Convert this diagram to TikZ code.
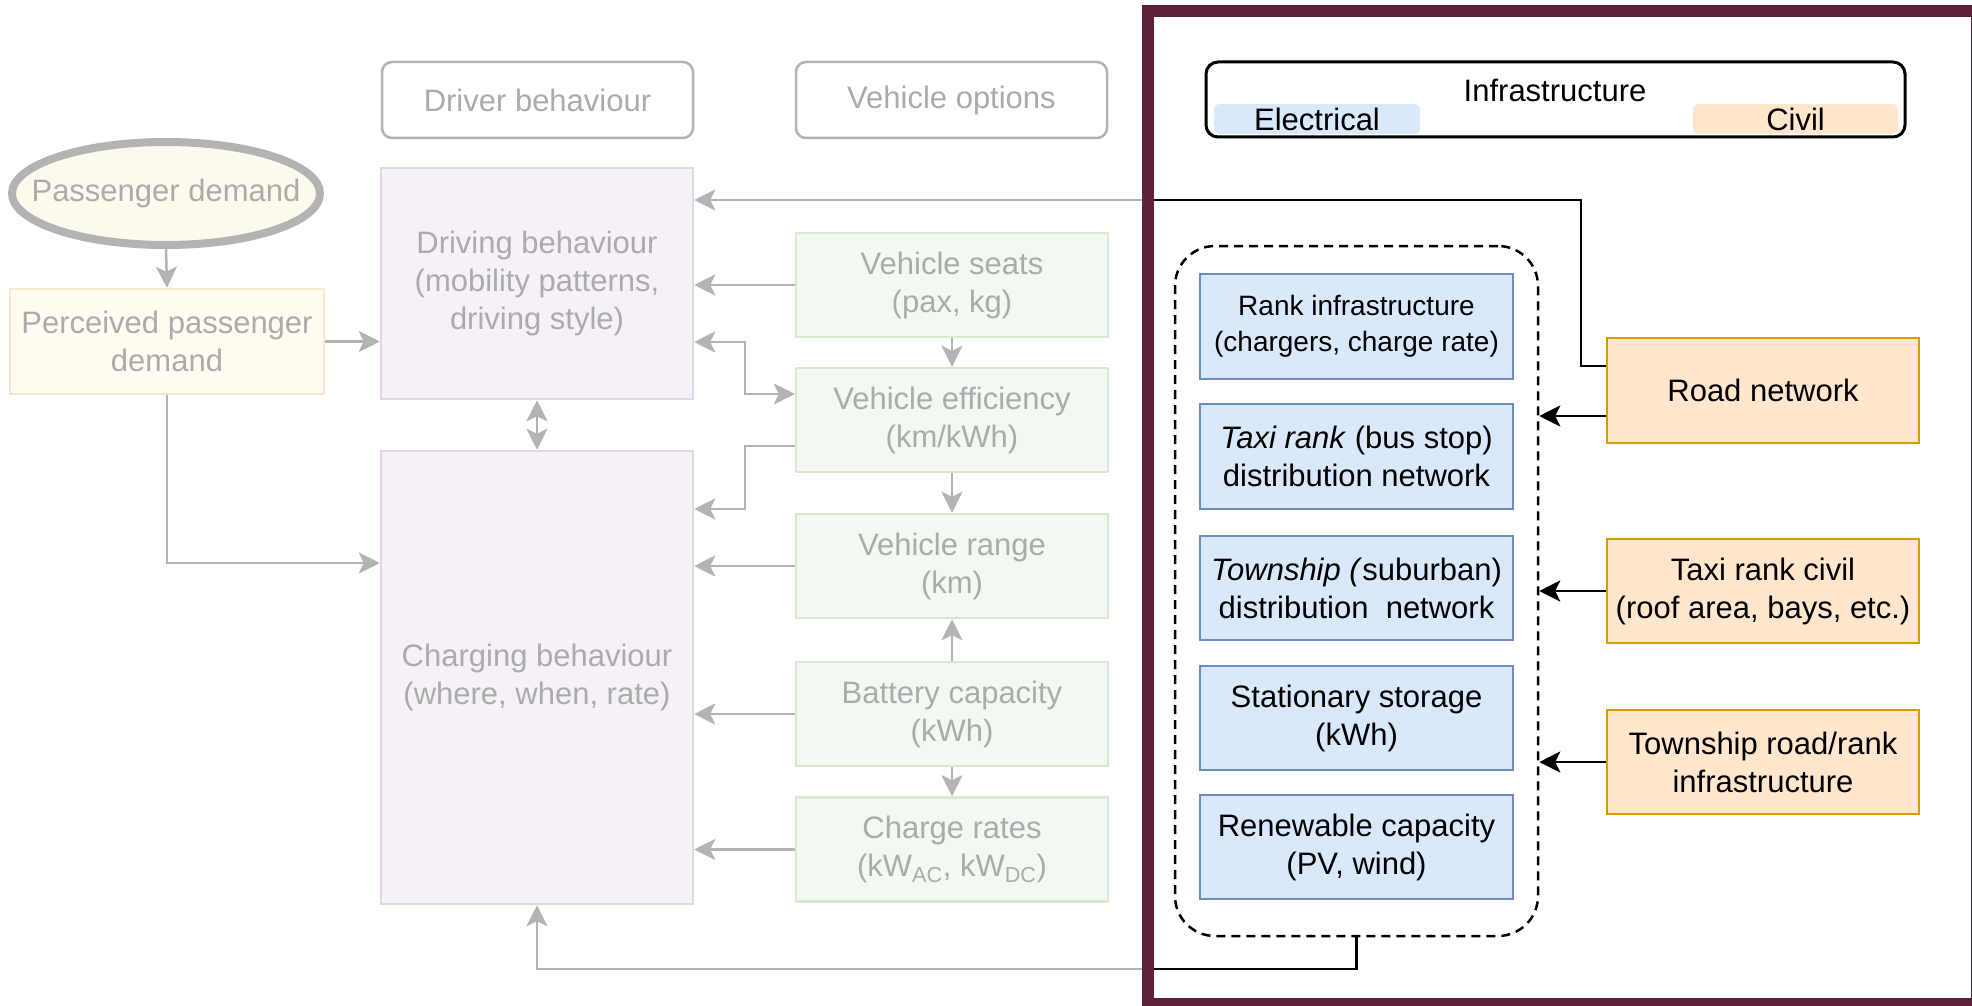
\documentclass[tikz,border=0pt]{standalone}
\usepackage{fontspec}
\setmainfont{Liberation Sans}
\usetikzlibrary{arrows.meta,shapes.geometric}

\definecolor{greyline}{HTML}{B3B3B3}
\definecolor{greytext}{HTML}{ABABAB}
\definecolor{demandfill}{HTML}{FDF9EC}
\definecolor{percfill}{HTML}{FFFBF0}
\definecolor{percedge}{HTML}{F3E9CC}
\definecolor{behavfill}{HTML}{F5F1F7}
\definecolor{behavedge}{HTML}{E1D5E7}
\definecolor{optfill}{HTML}{F2F8F2}
\definecolor{optedge}{HTML}{DAE8D1}
\definecolor{elecfill}{HTML}{DAE8FC}
\definecolor{elecedge}{HTML}{6C8EBF}
\definecolor{civfill}{HTML}{FFE6CC}
\definecolor{civedge}{HTML}{D79B00}
\definecolor{framecol}{HTML}{5E1F3B}

\begin{document}
\begin{tikzpicture}[x=1pt,y=-1pt,
  base/.style={draw, line width=2.5pt, inner sep=0pt, align=center,
    font=\fontsize{31}{38}\selectfont},
  headbox/.style={base, draw=greyline, fill=white, rounded corners=10pt,
    text=greytext, minimum width=311pt, minimum height=76pt},
  demand/.style={ellipse, draw=greyline, line width=8pt, fill=demandfill,
    inner sep=0pt, minimum width=308pt, minimum height=103pt},
  percbox/.style={base, draw=percedge, fill=percfill, text=greytext,
    minimum width=314pt, minimum height=105pt},
  behav/.style={base, draw=behavedge, fill=behavfill, text=greytext,
    minimum width=312pt},
  optbox/.style={base, draw=optedge, fill=optfill, text=greytext,
    minimum width=312pt, minimum height=104pt},
  elbox/.style={base, draw=elecedge, fill=elecfill, text=black,
    minimum width=313pt, minimum height=105pt},
  civbox/.style={base, draw=civedge, fill=civfill, text=black,
    minimum width=312pt, minimum height=104pt},
  tag/.style={inner sep=0pt, rounded corners=5pt, minimum height=30pt,
    font=\fontsize{31}{38}\selectfont},
  plain/.style={inner sep=0pt, font=\fontsize{31}{38}\selectfont},
  tipshape/.tip={Stealth[length=21pt,width=21pt,inset=5pt]},
  gflow/.style={draw=greyline, line width=2.5pt, -tipshape},
  gboth/.style={draw=greyline, line width=2.5pt, tipshape-tipshape},
  kflow/.style={draw=black, line width=2.5pt, -tipshape},
]
\useasboundingbox (0,0) rectangle (1972,1006);

% ---- column headers ----
\node[headbox] (drvhead) at (537.5,100) {Driver behaviour};
\node[headbox] (vehhead) at (951.5,100) {Vehicle options};

% ---- demand side ----
\node[demand] (pass) at (166,193.5) {};
\node[plain, text=greytext] (passtext) at (pass.center) {Passenger demand};
\node[percbox] (perc) at (167,341.5) {Perceived passenger\\demand};

% ---- driver behaviour ----
\node[behav, minimum height=231pt] (driving) at (537,283.5)
  {Driving behaviour\\(mobility patterns,\\driving style)};
\node[behav, minimum height=453pt] (charging) at (537,677.5)
  {Charging behaviour\\(where, when, rate)};

% ---- vehicle options ----
\node[optbox] (seats) at (952,285) {Vehicle seats\\(pax, kg)};
\node[optbox] (eff) at (952,420) {Vehicle efficiency\\(km/kWh)};
\node[optbox] (range) at (952,566) {Vehicle range\\(km)};
\node[optbox] (battery) at (952,714) {Battery capacity\\(kWh)};
\node[optbox] (rates) at (952,849.5)
  {Charge rates\\(kW\textsubscript{AC}, kW\textsubscript{DC})};

% ---- infrastructure legend ----
\node[draw=black, line width=3pt, rounded corners=12pt, inner sep=0pt,
  minimum width=699pt, minimum height=75pt] (infra) at (1555.5,99.5) {};
\node[tag, fill=elecfill, minimum width=206pt] (electag) at (1317,119) {Electrical};
\node[tag, fill=civfill, minimum width=205pt] (civtag) at (1795.5,119) {Civil};
\node[plain] (infratitle) at (1555,90) {Infrastructure};

% ---- electrical infrastructure group ----
\node[draw=black, line width=2.5pt, dash pattern=on 9pt off 6pt,
  rounded corners=40pt, inner sep=0pt, minimum width=363pt,
  minimum height=690pt] (elecgroup) at (1356.5,591) {};
\node[elbox, font=\fontsize{28}{36.5}\selectfont] (rank) at (1356.5,326.5)
  {Rank infrastructure\\(chargers, charge rate)};
\node[elbox] (taxidist) at (1356.5,456.5)
  {\textit{Taxi rank} (bus stop)\\distribution network};
\node[elbox, minimum height=104pt] (towndist) at (1356.5,588)
  {\textit{Township (}suburban)\\distribution\ \ network};
\node[elbox, minimum height=104pt] (storage) at (1356.5,718)
  {Stationary storage\\(kWh)};
\node[elbox, minimum height=104pt] (renew) at (1356.5,847)
  {Renewable capacity\\(PV, wind)};

% ---- civil infrastructure ----
\node[civbox, minimum height=105pt] (road) at (1763,390.5) {Road network};
\node[civbox] (rankcivil) at (1763,591) {Taxi rank civil\\(roof area, bays, etc.)};
\node[civbox] (townroad) at (1763,762) {Township road/rank\\infrastructure};

% ---- grey links ----
\draw[gflow] (pass.south) -- (perc.north);
\draw[gflow] (perc.east) -- (perc.east -| driving.west);
\draw[gflow] (perc.south) |- (charging.west |- 0,563);
\draw[gboth] (driving.south) -- (charging.north);
\draw[gflow] (seats.west) -- (seats.west -| driving.east);
\draw[gflow] (seats.south) -- (eff.north);
\draw[gboth] (driving.east |- 0,342) -- (745,342) |- (eff.west |- 0,394);
\draw[gflow] (eff.west |- 0,446) -- (745,446) |- (charging.east |- 0,509);
\draw[gflow] (eff.south) -- (range.north);
\draw[gflow] (range.west) -- (range.west -| charging.east);
\draw[gflow] (battery.north) -- (range.south);
\draw[gflow] (battery.south) -- (rates.north);
\draw[gflow] (battery.west) -- (battery.west -| charging.east);
\draw[gflow] (rates.west) -- (rates.west -| charging.east);

% ---- links leaving the infrastructure frame: grey outside, black inside ----
\begin{scope}
  \clip (0,0) rectangle (1142,1006);
  \draw[gflow] (road.west |- 0,366) -- (1581,366) |- (driving.east |- 0,200);
  \draw[gflow] (elecgroup.south) -- (1356.5,969) -| (charging.south);
\end{scope}
\begin{scope}
  \clip (1142,0) rectangle (1972,1006);
  \draw[kflow, -] (road.west |- 0,366) -- (1581,366) |- (driving.east |- 0,200);
  \draw[kflow, -] (elecgroup.south) -- (1356.5,969) -| (charging.south);
\end{scope}

% ---- civil inputs to the electrical group ----
\draw[kflow] (road.west |- 0,416) -- (elecgroup.east |- 0,416);
\draw[kflow] (rankcivil.west) -- (rankcivil.west -| elecgroup.east);
\draw[kflow] (townroad.west) -- (townroad.west -| elecgroup.east);

% ---- infrastructure frame ----
\begin{scope}
  \clip (0,0) rectangle (1972,1006);
  \draw[framecol, line width=12pt] (1148,11.5) rectangle (1977,1003.5);
\end{scope}
\end{tikzpicture}
\end{document}
